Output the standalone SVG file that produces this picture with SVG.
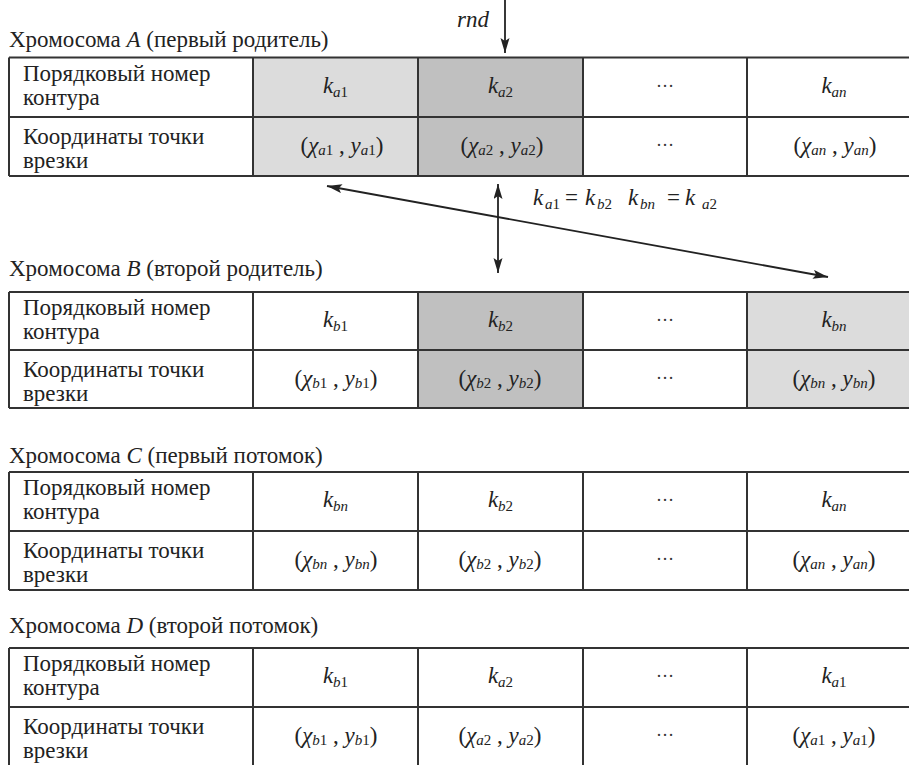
<svg xmlns="http://www.w3.org/2000/svg" width="909" height="765" viewBox="0 0 909 765">
<style>
.t{font-family:"Liberation Serif","Times New Roman",serif;font-size:23px;fill:#222}
.m{text-anchor:middle}
.i{font-style:italic}
.s{font-size:15px}
.d{font-family:"Liberation Serif",serif;font-size:18px;fill:#333;text-anchor:middle}
.g{stroke:#333;stroke-width:2;fill:none}
.l{fill:#dcdcdc}
.k{fill:#c0c0c0}
.a{stroke:#222;stroke-width:1.8;fill:none}
</style>
<defs>
<marker id="ah" markerUnits="userSpaceOnUse" markerWidth="16" markerHeight="10" refX="15" refY="4.5" orient="auto-start-reverse">
<path d="M0,0 L15,4.5 L0,9 L3,4.5 z" fill="#222"/>
</marker>
</defs>
<rect width="909" height="765" fill="#fff"/>

<g id="chromA">
<text class="t" x="9" y="47">Хромосома <tspan class="i">A</tspan> (первый родитель)</text>
<rect class="l" x="253" y="57.5" width="165" height="118.5"/>
<rect class="k" x="418" y="57.5" width="165" height="118.5"/>
<path class="g" d="M9,57.5 H911 M9,117 H911 M9,176 H911 M9,57.5 V176 M253,57.5 V176 M418,57.5 V176 M583,57.5 V176 M747,57.5 V176"/>
<text class="t" x="23" y="81">Порядковый номер</text>
<text class="t" x="23" y="105">контура</text>
<text class="t" x="23" y="144">Координаты точки</text>
<text class="t" x="23" y="168">врезки</text>
<text class="t m" x="335.5" y="93"><tspan class="i">k</tspan><tspan class="s i" dy="4">a</tspan><tspan class="s">1</tspan></text>
<text class="t m" x="500.5" y="93"><tspan class="i">k</tspan><tspan class="s i" dy="4">a</tspan><tspan class="s">2</tspan></text>
<text class="d" x="665" y="87">…</text>
<text class="t m" x="834" y="93"><tspan class="i">k</tspan><tspan class="s i" dy="4">an</tspan></text>
<text class="t m" x="342" y="153">(<tspan class="i">χ</tspan><tspan class="s i" dy="2">a</tspan><tspan class="s">1</tspan><tspan dy="-2"> , </tspan><tspan class="i">y</tspan><tspan class="s i" dy="2">a</tspan><tspan class="s">1</tspan><tspan dy="-2">)</tspan></text>
<text class="t m" x="502" y="153">(<tspan class="i">χ</tspan><tspan class="s i" dy="2">a</tspan><tspan class="s">2</tspan><tspan dy="-2"> , </tspan><tspan class="i">y</tspan><tspan class="s i" dy="2">a</tspan><tspan class="s">2</tspan><tspan dy="-2">)</tspan></text>
<text class="d" x="665" y="146">…</text>
<text class="t m" x="835" y="153">(<tspan class="i">χ</tspan><tspan class="s i" dy="2">an</tspan><tspan dy="-2"> , </tspan><tspan class="i">y</tspan><tspan class="s i" dy="2">an</tspan><tspan dy="-2">)</tspan></text>
</g>

<g id="chromB">
<text class="t" x="9" y="276">Хромосома <tspan class="i">B</tspan> (второй родитель)</text>
<rect class="k" x="418" y="292" width="165" height="116"/>
<rect class="l" x="747" y="292" width="164" height="116"/>
<path class="g" d="M9,292 H911 M9,350 H911 M9,408 H911 M9,292 V408 M253,292 V408 M418,292 V408 M583,292 V408 M747,292 V408"/>
<text class="t" x="23" y="315">Порядковый номер</text>
<text class="t" x="23" y="339">контура</text>
<text class="t" x="23" y="377">Координаты точки</text>
<text class="t" x="23" y="401">врезки</text>
<text class="t m" x="335.5" y="327"><tspan class="i">k</tspan><tspan class="s i" dy="4">b</tspan><tspan class="s">1</tspan></text>
<text class="t m" x="500.5" y="327"><tspan class="i">k</tspan><tspan class="s i" dy="4">b</tspan><tspan class="s">2</tspan></text>
<text class="d" x="665" y="321">…</text>
<text class="t m" x="834" y="327"><tspan class="i">k</tspan><tspan class="s i" dy="4">bn</tspan></text>
<text class="t m" x="336" y="386">(<tspan class="i">χ</tspan><tspan class="s i" dy="2">b</tspan><tspan class="s">1</tspan><tspan dy="-2"> , </tspan><tspan class="i">y</tspan><tspan class="s i" dy="2">b</tspan><tspan class="s">1</tspan><tspan dy="-2">)</tspan></text>
<text class="t m" x="500" y="386">(<tspan class="i">χ</tspan><tspan class="s i" dy="2">b</tspan><tspan class="s">2</tspan><tspan dy="-2"> , </tspan><tspan class="i">y</tspan><tspan class="s i" dy="2">b</tspan><tspan class="s">2</tspan><tspan dy="-2">)</tspan></text>
<text class="d" x="665" y="379">…</text>
<text class="t m" x="834" y="386">(<tspan class="i">χ</tspan><tspan class="s i" dy="2">bn</tspan><tspan dy="-2"> , </tspan><tspan class="i">y</tspan><tspan class="s i" dy="2">bn</tspan><tspan dy="-2">)</tspan></text>
</g>

<g id="chromC">
<text class="t" x="9" y="463">Хромосома <tspan class="i">C</tspan> (первый потомок)</text>
<path class="g" d="M9,472 H911 M9,531 H911 M9,590 H911 M9,472 V590 M253,472 V590 M418,472 V590 M583,472 V590 M747,472 V590"/>
<text class="t" x="23" y="495">Порядковый номер</text>
<text class="t" x="23" y="519">контура</text>
<text class="t" x="23" y="558">Координаты точки</text>
<text class="t" x="23" y="582">врезки</text>
<text class="t m" x="335.5" y="507"><tspan class="i">k</tspan><tspan class="s i" dy="4">bn</tspan></text>
<text class="t m" x="500.5" y="507"><tspan class="i">k</tspan><tspan class="s i" dy="4">b</tspan><tspan class="s">2</tspan></text>
<text class="d" x="665" y="501">…</text>
<text class="t m" x="834" y="507"><tspan class="i">k</tspan><tspan class="s i" dy="4">an</tspan></text>
<text class="t m" x="336" y="567">(<tspan class="i">χ</tspan><tspan class="s i" dy="2">bn</tspan><tspan dy="-2"> , </tspan><tspan class="i">y</tspan><tspan class="s i" dy="2">bn</tspan><tspan dy="-2">)</tspan></text>
<text class="t m" x="500" y="567">(<tspan class="i">χ</tspan><tspan class="s i" dy="2">b</tspan><tspan class="s">2</tspan><tspan dy="-2"> , </tspan><tspan class="i">y</tspan><tspan class="s i" dy="2">b</tspan><tspan class="s">2</tspan><tspan dy="-2">)</tspan></text>
<text class="d" x="665" y="560">…</text>
<text class="t m" x="834" y="567">(<tspan class="i">χ</tspan><tspan class="s i" dy="2">an</tspan><tspan dy="-2"> , </tspan><tspan class="i">y</tspan><tspan class="s i" dy="2">an</tspan><tspan dy="-2">)</tspan></text>
</g>

<g id="chromD">
<text class="t" x="9" y="633">Хромосома <tspan class="i">D</tspan> (второй потомок)</text>
<path class="g" d="M9,648 H911 M9,707 H911 M9,648 V767 M253,648 V767 M418,648 V767 M583,648 V767 M747,648 V767"/>
<text class="t" x="23" y="671">Порядковый номер</text>
<text class="t" x="23" y="695">контура</text>
<text class="t" x="23" y="734">Координаты точки</text>
<text class="t" x="23" y="758">врезки</text>
<text class="t m" x="335.5" y="683"><tspan class="i">k</tspan><tspan class="s i" dy="4">b</tspan><tspan class="s">1</tspan></text>
<text class="t m" x="500.5" y="683"><tspan class="i">k</tspan><tspan class="s i" dy="4">a</tspan><tspan class="s">2</tspan></text>
<text class="d" x="665" y="677">…</text>
<text class="t m" x="834" y="683"><tspan class="i">k</tspan><tspan class="s i" dy="4">a</tspan><tspan class="s">1</tspan></text>
<text class="t m" x="336" y="743">(<tspan class="i">χ</tspan><tspan class="s i" dy="2">b</tspan><tspan class="s">1</tspan><tspan dy="-2"> , </tspan><tspan class="i">y</tspan><tspan class="s i" dy="2">b</tspan><tspan class="s">1</tspan><tspan dy="-2">)</tspan></text>
<text class="t m" x="500" y="743">(<tspan class="i">χ</tspan><tspan class="s i" dy="2">a</tspan><tspan class="s">2</tspan><tspan dy="-2"> , </tspan><tspan class="i">y</tspan><tspan class="s i" dy="2">a</tspan><tspan class="s">2</tspan><tspan dy="-2">)</tspan></text>
<text class="d" x="665" y="736">…</text>
<text class="t m" x="834" y="743">(<tspan class="i">χ</tspan><tspan class="s i" dy="2">a</tspan><tspan class="s">1</tspan><tspan dy="-2"> , </tspan><tspan class="i">y</tspan><tspan class="s i" dy="2">a</tspan><tspan class="s">1</tspan><tspan dy="-2">)</tspan></text>
</g>

<g id="connectors">
<text class="t i" x="457" y="27">rnd</text>
<line class="a" x1="505" y1="0" x2="505" y2="53" marker-end="url(#ah)"/>
<line class="a" x1="327" y1="186" x2="828" y2="277" marker-start="url(#ah)" marker-end="url(#ah)"/>
<line class="a" x1="498" y1="184" x2="498" y2="273" marker-start="url(#ah)" marker-end="url(#ah)"/>
<text class="t" y="205"><tspan class="i" x="533">k</tspan><tspan class="s i" x="545" dy="4">a</tspan><tspan class="s">1</tspan><tspan x="565" dy="-4">=</tspan><tspan class="i" x="585">k</tspan><tspan class="s i" x="597" dy="4">b</tspan><tspan class="s">2</tspan><tspan class="i" x="628" dy="-4">k</tspan><tspan class="s i" x="640" dy="4">bn</tspan><tspan x="667" dy="-4">=</tspan><tspan class="i" x="685">k</tspan><tspan class="s i" x="702" dy="4">a</tspan><tspan class="s">2</tspan></text>
</g>
</svg>
